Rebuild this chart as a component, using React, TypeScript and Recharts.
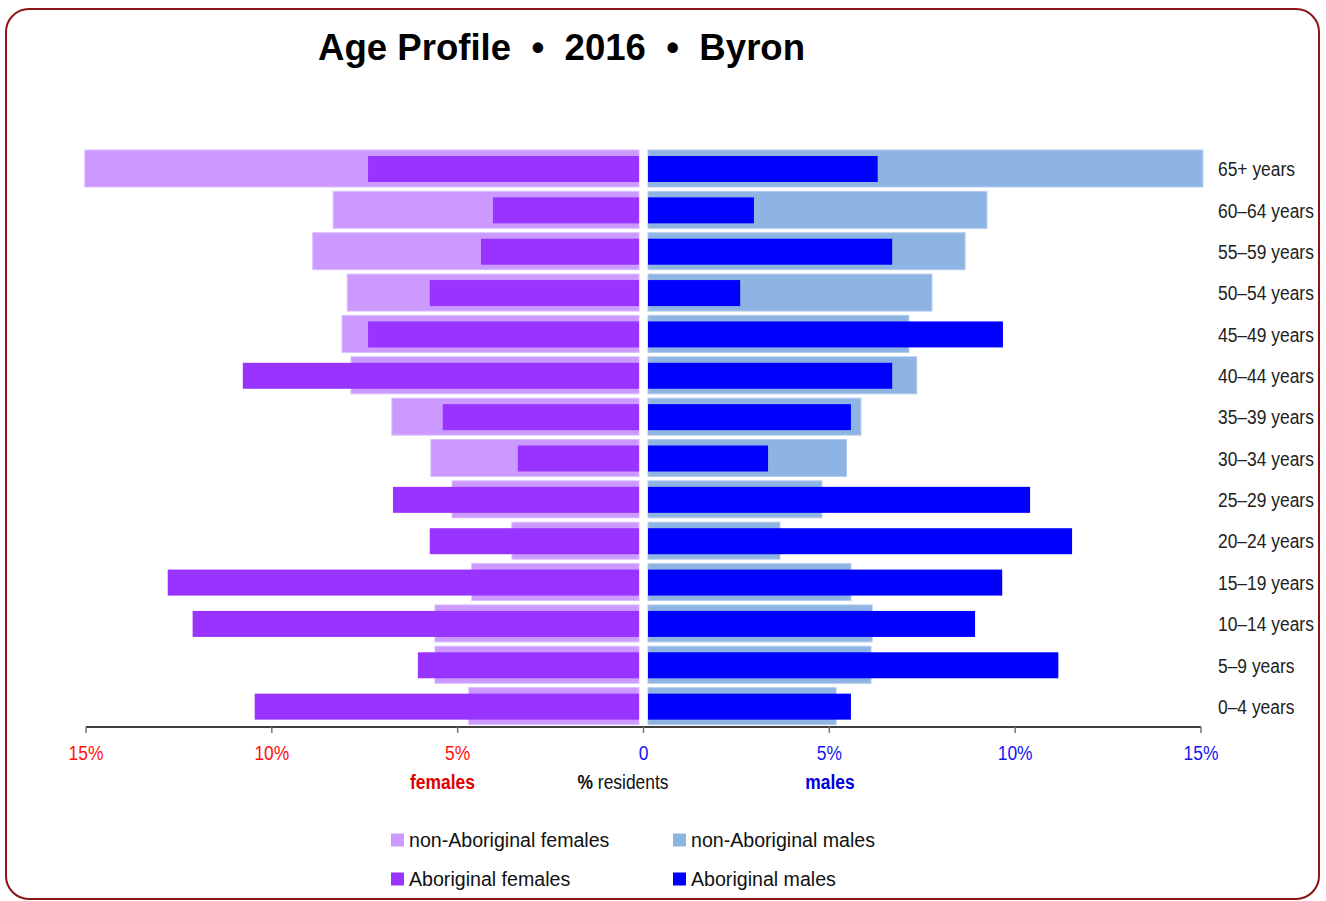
import React from "react";
import { BarChart, Bar, XAxis, YAxis } from "recharts";

const AGE_GROUPS = [
  "65+ years", "60–64 years", "55–59 years", "50–54 years", "45–49 years",
  "40–44 years", "35–39 years", "30–34 years", "25–29 years", "20–24 years",
  "15–19 years", "10–14 years", "5–9 years", "0–4 years",
];
const FEMALE_NON_ABORIGINAL = [14.91, 8.23, 8.78, 7.85, 7.99, 7.75, 6.65, 5.6, 5.03, 3.42, 4.5, 5.49, 5.49, 4.58];
const FEMALE_ABORIGINAL = [7.29, 3.93, 4.25, 5.63, 7.29, 10.66, 5.28, 3.26, 6.62, 5.63, 12.68, 12.01, 5.95, 10.34];
const MALE_NON_ABORIGINAL = [14.93, 9.12, 8.53, 7.64, 7.02, 7.23, 5.73, 5.34, 4.68, 3.55, 5.46, 6.03, 6.0, 5.06];
const MALE_ABORIGINAL = [6.18, 2.85, 6.57, 2.48, 9.55, 6.57, 5.46, 3.23, 10.28, 11.41, 9.53, 8.8, 11.04, 5.46];
const X_TICKS = [-15, -10, -5, 0, 5, 10, 15];

const COLORS = {
  femNon: "#CC99FF",
  femAb: "#9933FF",
  maleNon: "#8DB4E2",
  maleAb: "#0000FF",
};

const data = AGE_GROUPS.map((age, i) => ({
  age,
  femNon: -FEMALE_NON_ABORIGINAL[i],
  femAb: -FEMALE_ABORIGINAL[i],
  maleNon: MALE_NON_ABORIGINAL[i],
  maleAb: MALE_ABORIGINAL[i],
}));

const GAP = 4.5;
const SANS = "'Liberation Sans', Arial, Helvetica, sans-serif";
const NARROW_SCALE = 0.83;

// condensed text (Arial Narrow look) via horizontal scaling of real text
const NarrowText = ({ x, y, children, anchor = "middle", dy, ...rest }: any) => (
  <text
    transform={`translate(${x},${y}) scale(${NARROW_SCALE},1)`}
    x={0}
    y={0}
    dy={dy}
    textAnchor={anchor}
    fontFamily={SANS}
    {...rest}
  >
    {children}
  </text>
);

const makeShape = (dir: number, stroke?: string) => (props: any) => {
  const { x, y, width, height, fill } = props;
  if (width == null || height == null) return <g />;
  const left = Math.min(x, x + width);
  const w = Math.abs(width);
  return (
    <rect
      x={left + dir * GAP}
      y={y}
      width={w}
      height={height}
      fill={fill}
      stroke={stroke || "none"}
      strokeWidth={stroke ? 1 : 0}
    />
  );
};

const XTick = (props: any) => {
  const { x, y, payload } = props;
  const v = payload.value;
  const label = v === 0 ? "0" : `${Math.abs(v)}%`;
  const color = v < 0 ? "#FF1010" : "#1515F0";
  return (
    <NarrowText x={x} y={y} dy="0.71em" anchor="middle" fill={color} fontSize={21}>
      {label}
    </NarrowText>
  );
};

const YTick = (props: any) => {
  const { x, y, payload } = props;
  return (
    <NarrowText x={x} y={y} dy="0.36em" anchor="start" fill="#222" fontSize={21}>
      {payload.value}
    </NarrowText>
  );
};

const legendItems = [
  { label: "non-Aboriginal females", color: COLORS.femNon, x: 391, y: 840 },
  { label: "non-Aboriginal males", color: COLORS.maleNon, x: 673, y: 840 },
  { label: "Aboriginal females", color: COLORS.femAb, x: 391, y: 879 },
  { label: "Aboriginal males", color: COLORS.maleAb, x: 673, y: 879 },
];

export default function App() {
  return (
    <div style={{ position: "absolute", left: 0, top: 0, width: 1326, height: 901, background: "#fff", overflow: "hidden" }}>
      <div
        style={{
          position: "absolute",
          left: 5,
          top: 8,
          width: 1315,
          height: 892,
          border: "2.5px solid #8B1414",
          borderRadius: 24,
          boxSizing: "border-box",
        }}
      />
      <div style={{ position: "absolute", left: 0, top: 0 }}>
        <BarChart
          width={1326}
          height={901}
          data={data}
          layout="vertical"
          stackOffset="sign"
          margin={{ top: 148, right: 15, bottom: 134, left: 86 }}
        >
          <XAxis
            type="number"
            domain={[-15, 15]}
            ticks={X_TICKS}
            height={40}
            axisLine={{ stroke: "#000", strokeWidth: 1.5 }}
            tickLine={{ stroke: "#777", strokeWidth: 1.5 }}
            tickSize={6}
            tickMargin={12}
            tick={<XTick />}
          />
          <YAxis
            yAxisId="wide"
            type="category"
            dataKey="age"
            orientation="right"
            width={110}
            axisLine={false}
            tickLine={false}
            tickSize={0}
            tickMargin={17}
            tick={<YTick />}
            interval={0}
          />
          <YAxis yAxisId="narrow" type="category" dataKey="age" hide />
          <Bar yAxisId="wide" dataKey="femNon" stackId="wide" barSize={37} fill={COLORS.femNon}
            shape={makeShape(-1, "#DCBEFF")} isAnimationActive={false} />
          <Bar yAxisId="wide" dataKey="maleNon" stackId="wide" barSize={37} fill={COLORS.maleNon}
            shape={makeShape(1, "#B3CCEE")} isAnimationActive={false} />
          <Bar yAxisId="narrow" dataKey="femAb" stackId="narrow" barSize={26} fill={COLORS.femAb}
            shape={makeShape(-1)} isAnimationActive={false} />
          <Bar yAxisId="narrow" dataKey="maleAb" stackId="narrow" barSize={26} fill={COLORS.maleAb}
            shape={makeShape(1)} isAnimationActive={false} />
        </BarChart>
      </div>
      <svg width={1326} height={901} style={{ position: "absolute", left: 0, top: 0, pointerEvents: "none" }}>
        <text x={318} y={60} fontFamily={SANS} fontWeight="bold" fontSize={36.6} fill="#000" style={{ whiteSpace: "pre" }}>
          {"Age Profile  •  2016  •  Byron"}
        </text>
        <NarrowText x={442.5} y={789} anchor="middle" fontWeight="bold" fontSize={21} fill="#E00000">
          females
        </NarrowText>
        <NarrowText x={623} y={789} anchor="middle" fontSize={21} fill="#111">
          <tspan fontWeight="bold">%</tspan> residents
        </NarrowText>
        <NarrowText x={830} y={789} anchor="middle" fontWeight="bold" fontSize={21} fill="#0000E0">
          males
        </NarrowText>
        {legendItems.map((it) => (
          <g key={it.label}>
            <rect x={it.x} y={it.y - 6.5} width={13} height={13} fill={it.color} />
            <text x={it.x + 18} y={it.y} dy="0.36em" fontFamily={SANS} fontSize={19.6} fill="#111">
              {it.label}
            </text>
          </g>
        ))}
      </svg>
    </div>
  );
}
